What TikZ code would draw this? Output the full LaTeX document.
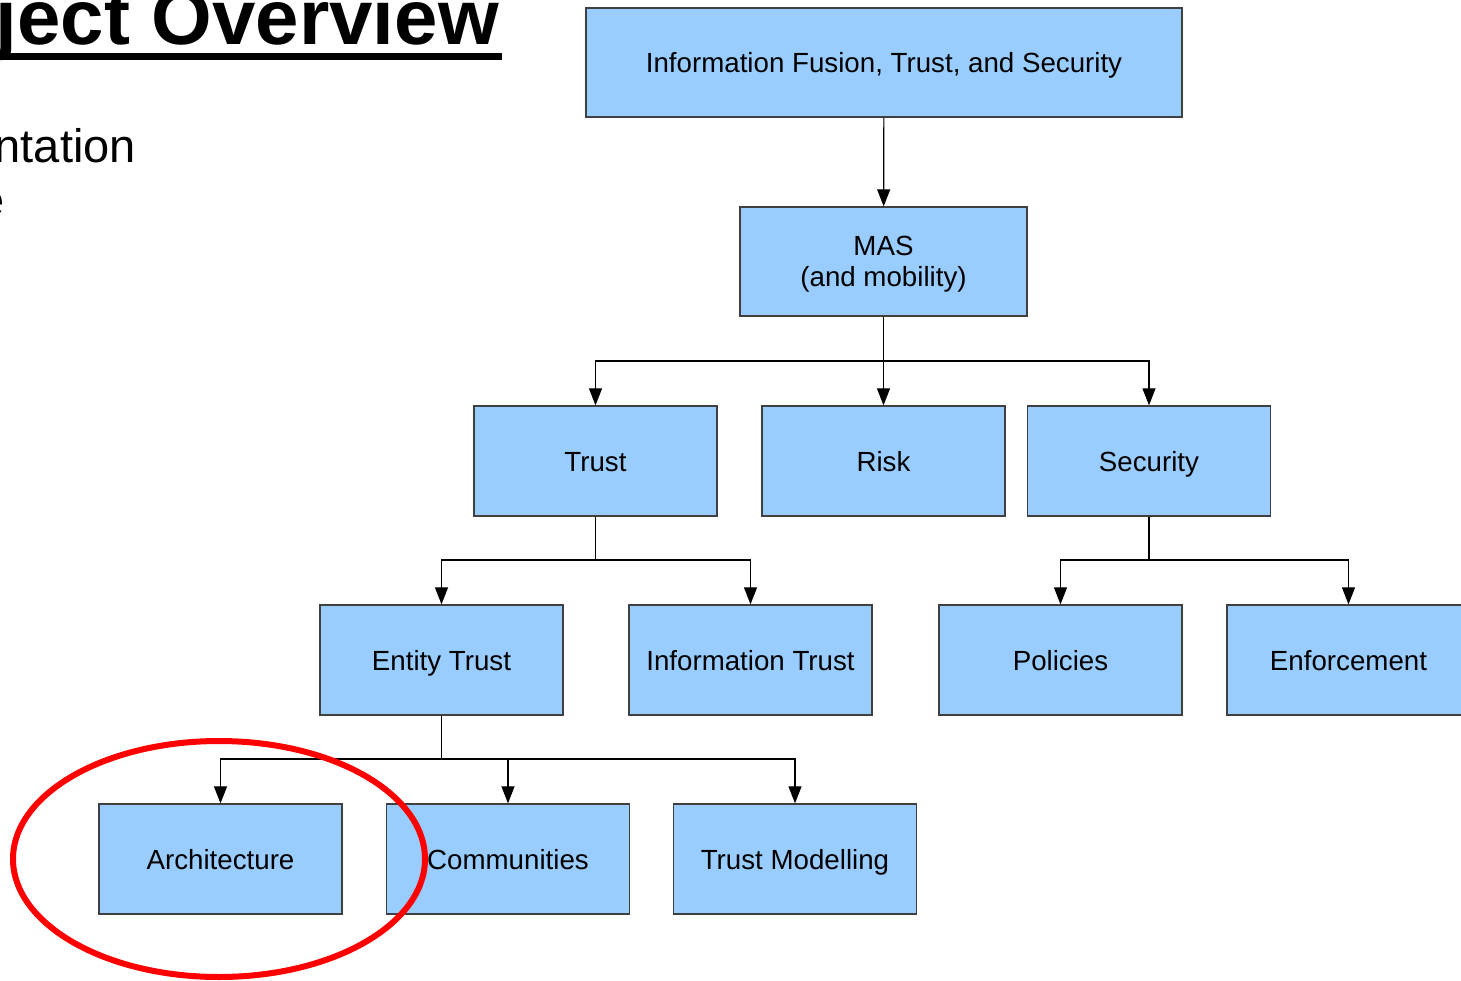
\documentclass[tikz,border=0pt]{standalone}
\usepackage{fontspec}
\setmainfont{Liberation Sans}
\usetikzlibrary{arrows.meta}
\definecolor{boxfill}{HTML}{99CCFF}
\definecolor{boxline}{HTML}{404040}
\definecolor{ringred}{HTML}{FF0000}

\begin{document}
\begin{tikzpicture}[x=1pt,y=-1pt,
  boxbase/.style={draw=boxline,line width=1.3pt,fill=boxfill,minimum width=243pt,
    minimum height=110pt,inner sep=0pt,
    font=\fontsize{27.7}{31}\selectfont},
  box/.style={boxbase,text height=20pt,text depth=0pt},
  link/.style={draw=black,line width=1.2pt,-{Triangle[length=17pt,width=13pt]}},
  bus/.style={draw=black,line width=1.2pt},
  ring/.style={draw=ringred,line width=6pt}]
\useasboundingbox (0,0) rectangle (1461,981);
\clip (0,0) rectangle (1461,981);

% slide heading and bullet text at the left
\node[anchor=base east,inner sep=0pt,font=\fontsize{78}{90}\selectfont\bfseries] (title) at (499,45) {ject Overview};
\draw[line width=7pt] (0,56.5) -- (502,56.5);
\node[anchor=base east,inner sep=0pt,font=\fontsize{47}{54}\selectfont] (line1) at (136,163) {ntation};
\node[anchor=base east,inner sep=0pt,font=\fontsize{47}{54}\selectfont] (line2) at (5,217) {e};

% hierarchy boxes
\node[box,minimum width=596pt,minimum height=109pt] (fusion) at (884,62.5) {Information Fusion, Trust, and Security};
\node[boxbase,align=center,text depth=0pt,minimum width=287pt,minimum height=109pt] (mas) at (883.5,261.5) {MAS\\(and mobility)};

\node[box] (trust) at (595.5,461) {Trust};
\node[box] (risk) at (883.5,461) {Risk};
\node[box] (security) at (1149,461) {Security};

\node[box] (entity) at (441.5,660) {Entity Trust};
\node[box] (info) at (750.5,660) {Information Trust};
\node[box] (policies) at (1060.5,660) {Policies};
\node[box] (enforce) at (1348.5,660) {Enforcement};

\node[box] (arch) at (220.5,859) {Architecture};
\node[box] (comm) at (508,859) {Communities};
\node[box] (model) at (795,859) {Trust Modelling};

% connectors
\draw[link] (fusion) -- (mas);

\coordinate (j1) at (883.5,361);
\draw[bus] (mas) -- (j1);
\draw[link] (j1) -| (trust.north);
\draw[link] (j1) -- (risk.north);
\draw[link] (j1) -| (security.north);

\coordinate (j2) at (595.5,560);
\draw[bus] (trust) -- (j2);
\draw[link] (j2) -| (entity.north);
\draw[link] (j2) -| (info.north);

\coordinate (j3) at (1149,560);
\draw[bus] (security) -- (j3);
\draw[link] (j3) -| (policies.north);
\draw[link] (j3) -| (enforce.north);

\coordinate (j4) at (441.5,759);
\draw[bus] (entity) -- (j4);
\draw[link] (j4) -| (arch.north);
\draw[link] (j4) -| (comm.north);
\draw[link] (j4) -| (model.north);

% highlight ring
\draw[ring] (219,859) ellipse [x radius=206, y radius=118];
\end{tikzpicture}
\end{document}
